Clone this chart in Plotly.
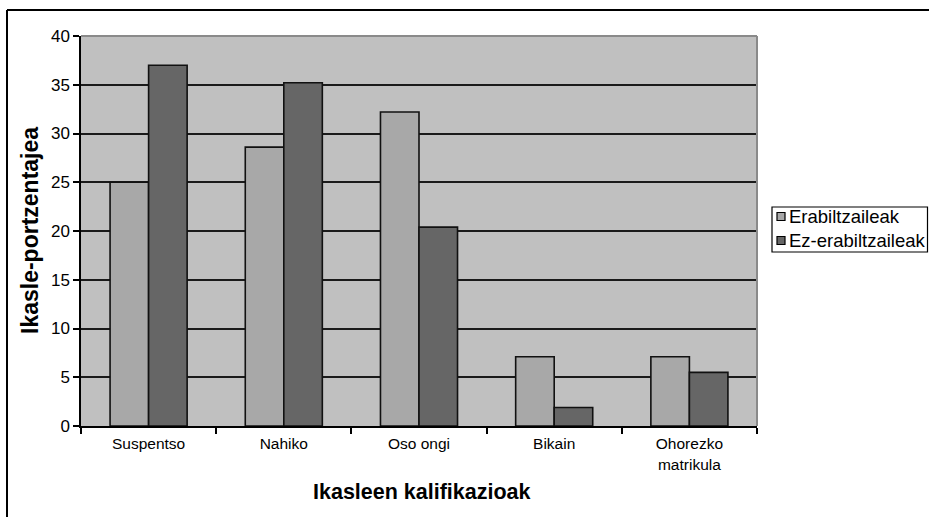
import plotly.graph_objects as go

# Grade categories and the share of students (%) in each group
categories = ["Suspentso", "Nahiko", "Oso ongi", "Bikain", "Ohorezko<br>matrikula"]
series_names = ["Erabiltzaileak", "Ez-erabiltzaileak"]
users = [25.0, 28.6, 32.2, 7.1, 7.1]
non_users = [37.0, 35.2, 20.4, 1.9, 5.5]
y_ticks = [0, 5, 10, 15, 20, 25, 30, 35, 40]

W, H = 929, 517
L, R, T, B = 81, 172, 36, 91
PW, PH = W - L - R, H - T - B
FONT = "Liberation Sans, Arial, sans-serif"
LIGHT, DARK = "#a8a8a8", "#666666"


def px(x):
    return (x - L) / PW


def py(y):
    return (H - B - y) / PH


fig = go.Figure()
for name, vals, col in [(series_names[0], users, LIGHT), (series_names[1], non_users, DARK)]:
    fig.add_trace(go.Bar(
        x=categories, y=vals, name=name,
        marker=dict(color=col, line=dict(color="#111111", width=1.6)),
        showlegend=False,
    ))

shapes = [
    # plot-area top and right edges
    dict(type="line", xref="paper", yref="paper", x0=0, x1=1, y0=1, y1=1,
         line=dict(color="#8a8a8a", width=2), layer="above"),
    dict(type="line", xref="paper", yref="paper", x0=1, x1=1, y0=0, y1=1,
         line=dict(color="#8a8a8a", width=2), layer="above"),
    # outer chart frame
    dict(type="line", xref="paper", yref="paper", x0=px(7), x1=px(W + 5), y0=py(10), y1=py(10),
         line=dict(color="black", width=2)),
    dict(type="line", xref="paper", yref="paper", x0=px(7), x1=px(7), y0=py(10), y1=py(H + 5),
         line=dict(color="black", width=2)),
    # legend box
    dict(type="rect", xref="paper", yref="paper", x0=px(772), x1=px(927.5), y0=py(207), y1=py(252),
         line=dict(color="black", width=1.2), fillcolor="white"),
]
annotations = [
    dict(text="<b>Ikasleen kalifikazioak</b>", xref="paper", yref="paper",
         x=px(422), y=py(492), xanchor="center", yanchor="middle", showarrow=False,
         font=dict(size=21.5, color="black", family=FONT)),
    dict(text="<b>Ikasle-portzentajea</b>", xref="paper", yref="paper", textangle=-90,
         x=px(30), y=py(231), xanchor="center", yanchor="middle", showarrow=False,
         font=dict(size=23, color="black", family=FONT)),
]
for i, (name, col) in enumerate(zip(series_names, [LIGHT, DARK])):
    cy = 216.5 + i * 24
    shapes.append(dict(type="rect", xref="paper", yref="paper",
                       x0=px(777), x1=px(785), y0=py(cy - 4), y1=py(cy + 4),
                       line=dict(color="black", width=1.2), fillcolor=col))
    annotations.append(dict(text=name, xref="paper", yref="paper", x=px(786.5), y=py(cy),
                            xanchor="left", yanchor="middle", showarrow=False,
                            font=dict(size=18.5, color="black", family=FONT)))

fig.update_layout(
    width=W, height=H,
    margin=dict(l=L, r=R, t=T, b=B),
    paper_bgcolor="white", plot_bgcolor="#c0c0c0",
    barmode="group", bargap=0.43, bargroupgap=0,
    font=dict(family=FONT, color="black"),
    shapes=shapes, annotations=annotations,
    xaxis=dict(
        showline=True, linecolor="black", linewidth=1.5,
        ticks="outside", tickson="boundaries", ticklen=6, tickcolor="black", tickwidth=1.5,
        tickfont=dict(size=15.5, family=FONT, color="black"),
        ticklabelstandoff=3,
        showgrid=False,
    ),
    yaxis=dict(
        range=[0, 40], tickvals=y_ticks,
        showline=True, linecolor="black", linewidth=1.5,
        ticks="outside", ticklen=6, tickcolor="black", tickwidth=1.5,
        tickfont=dict(size=17, family=FONT, color="black"),
        showgrid=True, gridcolor="#1a1a1a", gridwidth=1.5,
        zeroline=False,
    ),
)

fig.write_html("out.html")
